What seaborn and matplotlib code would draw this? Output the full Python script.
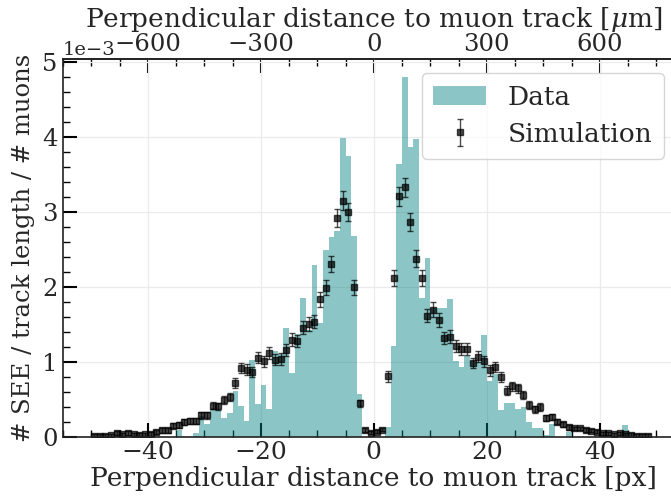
import numpy as np
import pandas as pd
import matplotlib
matplotlib.use("Agg")
import matplotlib.pyplot as plt
import seaborn as sns
from matplotlib.ticker import MultipleLocator, FixedLocator

# ---- data (values in units of 1e-3) ----
bin_edges = np.arange(-50, 51, 1)
data_vals = [
    0, 0, 0, 0, 0, 0, 0, 0, 0, 0, 0, 0, 0, 0, 0,          # -50 .. -36
    0.09, 0, 0, 0.05, 0.28, 0.18, 0.36, 0.36, 0.25, 0.32,  # -35 .. -26
    0.615, 0.41, 0.22, 1.03, 0.44, 0.70, 0.38, 1.15, 1.11, 1.46,  # -25 .. -16
    0.86, 1.37, 1.85, 1.43, 2.29, 1.52, 2.49, 2.67, 2.745, 3.99,  # -15 .. -6
    3.75, 2.68, 0.58,                                       # -5 .. -3
    0, 0, 0, 0,                                             # -2 .. 1
    0.14, 1.21, 3.64, 4.80, 3.87, 3.97, 1.86, 2.39, 1.72, 1.72,  # 2 .. 11
    1.72, 1.845, 1.01, 0.94, 1.08, 1.01, 1.00, 1.36, 0.75, 0.84,  # 12 .. 21
    0.36, 0.46, 0.45, 0.37, 0.40, 0.20, 0.12, 0.12, 0.03, 0.18,  # 22 .. 31
    0, 0, 0.07, 0, 0, 0, 0, 0, 0, 0, 0, 0, 0.156,          # 32 .. 44
    0, 0, 0, 0, 0,                                          # 45 .. 49
]

sim_x = np.arange(-49.5, 49.0, 1.0)
sim_vals = [
    0.02, 0.02, 0.02, 0.025, 0.05, 0.035, 0.05, 0.035, 0.03, 0.035,   # -49.5 .. -40.5
    0.04, 0.07, 0.09, 0.09, 0.15, 0.16, 0.205, 0.21, 0.22, 0.29,      # -39.5 .. -30.5
    0.29, 0.42, 0.41, 0.495, 0.53, 0.72, 0.92, 0.90, 0.87, 1.06,      # -29.5 .. -20.5
    1.01, 1.12, 1.03, 1.04, 1.16, 1.30, 1.28, 1.46, 1.51, 1.54,       # -19.5 .. -10.5
    1.84, 1.99, 2.31, 2.92, 3.15, 3.00, 2.00, 0.45, 0.09, 0.06,       # -9.5 .. -0.5
    0.07, 0.10, 0.81, 2.12, 3.21, 3.33, 2.87, 2.38, 2.12, 1.62,       # 0.5 .. 9.5
    1.70, 1.56, 1.32, 1.34, 1.22, 1.18, 1.17, 0.99, 1.07, 1.01,       # 10.5 .. 19.5
    0.89, 0.935, 0.80, 0.62, 0.68, 0.65, 0.56, 0.43, 0.37, 0.40,      # 20.5 .. 29.5
    0.25, 0.27, 0.205, 0.17, 0.13, 0.115, 0.115, 0.09, 0.085, 0.07,   # 30.5 .. 39.5
    0.05, 0.05, 0.04, 0.05, 0.035, 0.03, 0.02, 0.02, 0.02,           # 40.5 .. 48.5
]
sim_errs = [
    0.02, 0.02, 0.02, 0.02, 0.025, 0.02, 0.025, 0.02, 0.02, 0.02,
    0.025, 0.03, 0.03, 0.03, 0.035, 0.035, 0.04, 0.04, 0.04, 0.045,
    0.045, 0.05, 0.05, 0.055, 0.055, 0.065, 0.07, 0.07, 0.07, 0.075,
    0.075, 0.08, 0.075, 0.075, 0.08, 0.085, 0.085, 0.09, 0.09, 0.09,
    0.10, 0.10, 0.11, 0.12, 0.125, 0.12, 0.10, 0.05, 0.025, 0.02,
    0.02, 0.025, 0.07, 0.105, 0.125, 0.125, 0.12, 0.11, 0.105, 0.09,
    0.095, 0.09, 0.085, 0.085, 0.08, 0.08, 0.08, 0.07, 0.075, 0.075,
    0.07, 0.07, 0.065, 0.06, 0.06, 0.06, 0.055, 0.05, 0.045, 0.05,
    0.04, 0.04, 0.035, 0.03, 0.03, 0.025, 0.025, 0.025, 0.02, 0.02,
    0.02, 0.02, 0.02, 0.02, 0.02, 0.02, 0.015, 0.015, 0.015,
]
top_ticks = [-600, -300, 0, 300, 600]

scale = 1e-3
hist_df = pd.DataFrame({"pos": bin_edges[:-1] + 0.5,
                        "w": np.array(data_vals, dtype=float) * scale})

sns.set_theme(style="whitegrid")
plt.rcParams["font.family"] = ["DejaVu Serif"]
plt.rcParams["mathtext.fontset"] = "dejavuserif"

fig = plt.figure(figsize=(6.71, 4.97), dpi=100)
ax = fig.add_axes([63 / 671, 60 / 497, 621.5 / 671, 378 / 497])

sns.histplot(data=hist_df, x="pos", weights="w", binwidth=1,
             binrange=(float(bin_edges[0]), float(bin_edges[-1])),
             color="teal", alpha=0.45, linewidth=0, element="bars",
             label="Data", ax=ax)
ax.errorbar(sim_x, np.array(sim_vals) * scale, yerr=np.array(sim_errs) * scale,
            fmt="s", color="black", alpha=0.7, ms=4.8, capsize=2.3,
            elinewidth=1.0, capthick=1.0, label="Simulation")

ax.set_xlim(-55, 55)
ax.set_ylim(0, 5.04e-3)
ax.set_xlabel("Perpendicular distance to muon track [px]", fontsize=19, labelpad=1)
ax.set_ylabel("# SEE / track length / # muons", fontsize=17.5, labelpad=5)

ax.xaxis.set_major_locator(MultipleLocator(20))
ax.xaxis.set_minor_locator(MultipleLocator(5))
ax.yaxis.set_major_locator(MultipleLocator(1e-3))
ax.yaxis.set_minor_locator(MultipleLocator(2e-4))
ax.ticklabel_format(axis="y", style="sci", scilimits=(0, 0))
ax.yaxis.get_offset_text().set_fontsize(14)

ax.grid(True, which="major", color="#ebebeb", linewidth=0.9)
ax.set_axisbelow(True)
for s in ax.spines.values():
    s.set_color("#222222")
    s.set_linewidth(1.2)

ax.tick_params(axis="x", which="major", labelsize=18, pad=3)
ax.tick_params(axis="y", which="major", labelsize=17.5, pad=4)
ax.tick_params(which="major", direction="in", length=10, width=1.5,
               color="black", top=False, right=True, left=True, bottom=True)
ax.tick_params(which="minor", direction="in", length=5, width=1.0,
               color="black", top=False, right=True, left=True, bottom=True)

sec = ax.secondary_xaxis("top", functions=(lambda x: x * 15, lambda x: x / 15))
sec.xaxis.set_major_locator(FixedLocator(top_ticks))
sec.xaxis.set_minor_locator(MultipleLocator(75))
sec.tick_params(which="major", direction="in", length=10, width=1.5, labelsize=17.5,
                color="black", pad=2)
sec.tick_params(which="minor", direction="in", length=5, width=1.0, color="black")
sec.set_xlabel(r"Perpendicular distance to muon track [$\mu$m]", fontsize=19,
               va="baseline")
sec.xaxis.set_label_coords(0.5, (437 - 27) / 378, transform=ax.transAxes)
sec.spines["top"].set_color("#222222")

leg = ax.legend(loc="upper right", bbox_to_anchor=(0.967, 0.963), borderaxespad=0,
                fontsize=19, frameon=True, fancybox=True, framealpha=0.8,
                edgecolor="#cccccc", handlelength=2.0, borderpad=0.45,
                handletextpad=0.8, labelspacing=0.45)

fig.savefig("out.png", dpi=100)
